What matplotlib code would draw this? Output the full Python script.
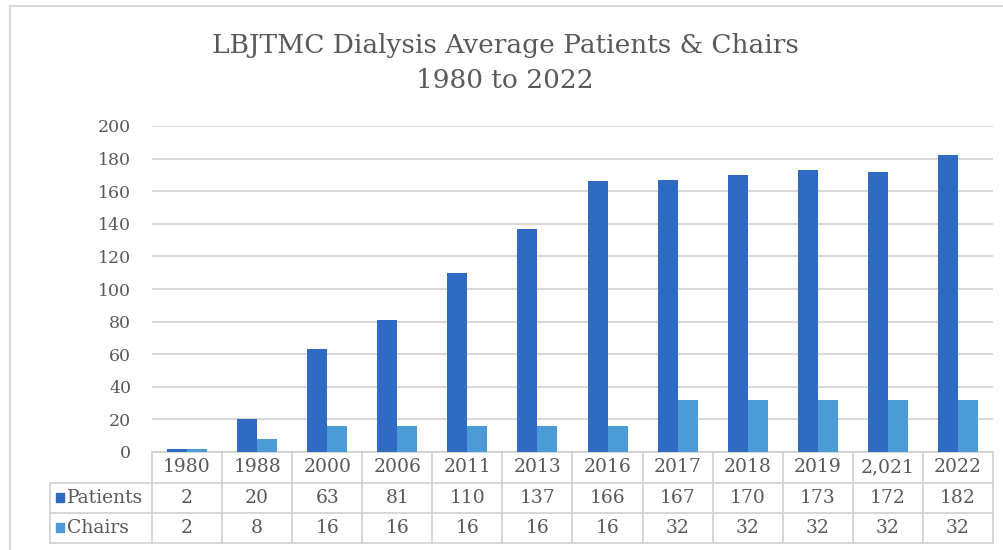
import numpy as np
import matplotlib.pyplot as plt
from matplotlib.lines import Line2D
from matplotlib.patches import Rectangle
import matplotlib.transforms as mtransforms

# Datos
years = ['1980', '1988', '2000', '2006', '2011', '2013', '2016', '2017',
         '2018', '2019', '2,021', '2022']
patients = [2, 20, 63, 81, 110, 137, 166, 167, 170, 173, 172, 182]
chairs = [2, 8, 16, 16, 16, 16, 16, 32, 32, 32, 32, 32]
series_names = ['Patients', 'Chairs']

c_pat = '#2F6BC3'
c_cha = '#4A9BD6'
txt = '#595959'
grid = '#D9D9D9'
serif = ['DejaVu Serif']

fig = plt.figure(figsize=(10.04, 5.5), dpi=100)
ax = fig.add_axes([152 / 1004, (550 - 452) / 550, (993 - 152) / 1004, 326 / 550])

x = np.arange(len(years))
w = 0.285
ax.bar(x - w / 2, patients, w, color=c_pat, zorder=3)
ax.bar(x + w / 2, chairs, w, color=c_cha, zorder=3)

ax.set_xlim(-0.5, len(years) - 0.5)
ax.set_ylim(0, 200)
ax.set_yticks(np.arange(0, 201, 20))
ax.yaxis.grid(True, color=grid, linewidth=1.5, zorder=0)
ax.set_xticks([])
ax.tick_params(axis='y', length=0, pad=15, labelsize=12.5, labelcolor=txt)
for lab in ax.get_yticklabels():
    lab.set_family(serif)
for s in ax.spines.values():
    s.set_visible(False)

# Tabla de datos debajo del eje
px = 1 / 326  # un pixel en fraccion del eje
rows = [0, -31 * px, -61 * px, -91 * px]
tr = mtransforms.blended_transform_factory(ax.transData, ax.transAxes)
leg_left = -(152 - 50) / 841  # en fraccion del eje
lc = '#D0D0D0'
kw = dict(color=lc, linewidth=1.2, clip_on=False)

# lineas horizontales
for i, yy in enumerate(rows):
    x0 = 0 if i == 0 else leg_left
    ax.add_line(Line2D([x0, 1], [yy, yy], transform=ax.transAxes, **kw))
# lineas verticales
for k in range(len(years) + 1):
    ax.add_line(Line2D([k - 0.5, k - 0.5], [rows[0], rows[-1]], transform=tr, **kw))
ax.add_line(Line2D([leg_left, leg_left], [rows[1], rows[-1]], transform=ax.transAxes, **kw))

fs = 13.5
for k, yr in enumerate(years):
    ax.text(k, (rows[0] + rows[1]) / 2, yr, transform=tr, ha='center', va='center',
            fontsize=fs, color=txt, family=serif)
    ax.text(k, (rows[1] + rows[2]) / 2, str(patients[k]), transform=tr, ha='center',
            va='center', fontsize=fs, color=txt, family=serif)
    ax.text(k, (rows[2] + rows[3]) / 2, str(chairs[k]), transform=tr, ha='center',
            va='center', fontsize=fs, color=txt, family=serif)

for name, col, (ya, yb) in zip(series_names, [c_pat, c_cha],
                               [(rows[1], rows[2]), (rows[2], rows[3])]):
    yc = (ya + yb) / 2
    ax.add_patch(Rectangle((leg_left + 6 / 841, yc - 4 * px), 8 / 841, 9 * px,
                           transform=ax.transAxes, color=col, clip_on=False))
    ax.text(leg_left + 17 / 841, yc, name, transform=ax.transAxes, ha='left',
            va='center', fontsize=fs, color=txt, family=serif)

# Titulo
fig.text(0.503, 1 - 45 / 550, 'LBJTMC Dialysis Average Patients & Chairs',
         ha='center', va='center', fontsize=19, color=txt, family=serif)
fig.text(0.503, 1 - 80 / 550, '1980 to 2022', ha='center', va='center',
         fontsize=19, color=txt, family=serif)

# Borde exterior
fig.add_artist(Line2D([10 / 1004, 1], [1 - 6 / 550, 1 - 6 / 550],
                      transform=fig.transFigure, color='#D9D9D9', linewidth=1.5))
fig.add_artist(Line2D([10 / 1004, 10 / 1004], [0, 1 - 6 / 550],
                      transform=fig.transFigure, color='#D9D9D9', linewidth=1.5))

fig.savefig('out.png', dpi=100)
